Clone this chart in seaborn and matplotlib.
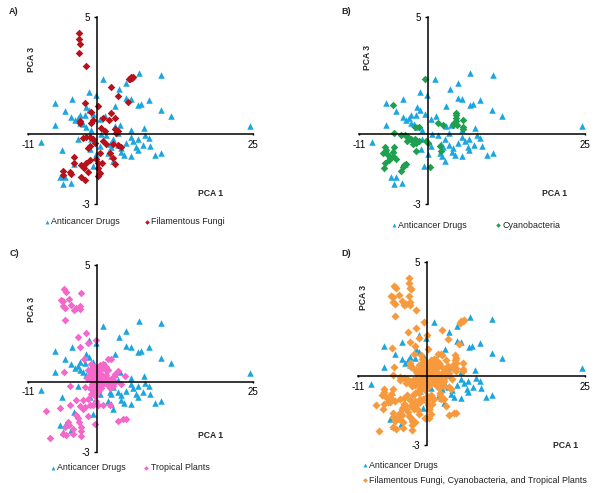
import matplotlib
matplotlib.use('Agg')
import matplotlib.pyplot as plt
import seaborn as sns
import pandas as pd

drugs_x = [24.5, 10.3, 6.7, 1.0, 4.7, 3.5, -1.3, -0.2, -4.0, -6.8, 4.7, 5.4, 8.3, 7.1, 6.6, 2.8, -1.8, -1.3, -5.1, 10.2,
           11.8, -4.1, -2.7, -3.1, -3.5, -1.9, -0.6, 1.3, 0.5, -6.8, -2.7, -2.2, -1.8, -1.0, 2.9, 3.7, 5.4, 7.5, 0.6, 1.5,
           7.7, 8.3, 6.5, 5.4, 5.8, -9.0, -3.1, 2.6, 3.3, 7.3, 6.3, 6.5, 8.5, -5.6, -1.2, 2.0, 2.3, 3.9, 3.8, 4.3,
           5.4, 9.3, 10.3, 1.8, 2.6, -0.7, -3.7, -5.9, -5.1, -4.2, -5.5, -0.1, 4.7, 2.2, 0.5, -1.0, 3.3]
drugs_y = [0.36, 2.51, 2.6, 2.37, 2.19, 1.93, 1.8, 1.66, 1.5, 1.31, 1.54, 1.5, 1.47, 1.3, 1.26, 1.2, 1.17, 1.04, 0.97, 1.01,
           0.79, 0.74, 0.83, 0.69, 0.6, 0.8, 0.84, 0.77, 0.63, 0.4, 0.49, 0.41, 0.3, 0.17, 0.34, 0.4, 0.17, 0.26, 0.0, -0.03,
           -0.06, -0.19, -0.2, -0.11, -0.29, -0.34, -0.2, -0.23, -0.46, -0.46, -0.54, -0.67, -0.53, -0.67, -0.66, -0.43, -0.54, -0.59, -0.77, -0.9,
           -0.94, -0.9, -0.83, -0.83, -1.16, -1.37, -1.29, -1.86, -1.86, -2.09, -2.16, -0.87, -0.4, -0.94, -0.51, -0.23, 0.06]

fungi_x = [-2.9, -2.9, -2.8, -2.9, -1.8, 5.8, 5.6, 5.3, 5.4, 5.1, 2.3, 3.3, 5.0, -2.0, 0.1, -1.0, 2.3, 2.9, 1.9, 0.9,
           -0.6, -1.0, -2.8, -2.7, 0.7, 1.3, 2.9, 3.4, 3.1, -2.3, -1.8, -1.1, -0.7, -0.3, -1.1, -1.4, 1.0, 1.5, 2.6, 3.4,
           3.8, 0.5, 2.0, 2.6, 2.9, -3.7, -3.7, -1.2, -1.8, -2.6, -2.1, -0.2, 0.1, 0.8, 0.2, 0.5, 0.2, -1.4, -5.5, -5.5,
           -4.3, -4.1, -2.6, -1.9]
fungi_y = [4.31, 4.09, 3.87, 3.49, 2.9, 2.46, 2.41, 2.37, 2.43, 2.34, 2.01, 1.63, 1.39, 1.34, 1.2, 0.94, 0.91, 0.7, 0.6, 0.7,
           0.6, 0.49, 0.56, 0.46, 0.27, 0.13, 0.2, 0.13, 0.06, -0.17, -0.11, -0.13, -0.23, -0.37, -0.51, -0.61, -0.3, -0.44, -0.44, -0.49,
           -0.54, -0.8, -0.83, -1.01, -1.3, -0.97, -1.23, -1.11, -1.26, -1.31, -1.44, -1.06, -1.26, -1.23, -1.44, -1.66, -1.8, -1.63, -1.59, -1.77,
           -1.61, -1.71, -1.84, -1.99]

cyano_x = [-0.5, -5.6, 4.4, 4.5, 4.4, 4.1, 4.5, 4.0, 4.6, 5.6, 5.6, 5.6, 1.6, 2.3, -2.1, -1.4, -5.4, -4.3, -3.7, -3.2,
           -2.8, -2.1, -1.4, -1.9, -2.4, -3.4, -3.0, -0.4, 0.0, -2.0, 1.9, 2.0, -6.9, -6.8, -7.2, -6.5, -6.1, -6.2, -5.7, -5.4,
           -5.7, -5.2, -6.9, -7.0, -3.6, -4.0, -4.3, -3.9, 0.3]
cyano_y = [2.36, 1.24, 0.91, 0.81, 0.7, 0.49, 0.56, 0.37, 0.37, 0.6, 0.31, 0.23, 0.46, 0.39, 0.31, 0.29, 0.06, -0.03, -0.06, -0.11,
           -0.2, -0.23, -0.3, -0.37, -0.44, -0.3, -0.23, -0.3, -0.4, -0.73, -0.51, -0.73, -0.56, -0.69, -0.83, -0.91, -1.01, -1.11, -0.94, -0.56,
           -0.77, -1.09, -1.23, -1.44, -1.27, -1.41, -1.59, -1.34, -1.41]

plants_x = [-5.3, -5.0, -2.6, -4.5, -5.7, -5.4, -5.5, -5.1, -4.1, -3.7, -3.4, -2.7, -2.7, -5.2, -1.8, -3.1, -0.1, -1.4, -2.8, -2.1,
            -5.3, -0.9, -0.3, 0.5, 1.0, 1.7, 2.2, 1.3, 1.8, -1.4, -0.9, -1.2, -0.3, 0.2, 0.7, 1.4, -0.6, 0.2, 1.0, 2.9,
            3.3, 4.5, 2.5, 2.1, 1.3, 2.9, 3.9, 0.5, 1.8, 2.6, -4.4, -1.9, -1.1, -0.3, 0.7, -0.6, 0.2, -1.0, -0.3, -1.4,
            -3.3, -2.2, -0.1, -2.7, -1.9, -1.2, -0.7, 0.2, 1.0, 2.1, -4.4, -6.0, -8.2, -2.2, -1.5, -3.4, -3.1, -2.9, 3.4, 4.2,
            4.6, -0.3, -4.7, -4.5, -5.1, -5.4, -5.0, -3.8, -3.8, -2.5, -2.5, -2.5, -7.6,
            -1.0, -0.6, -0.1, 0.4, 0.9, 1.5, -0.7, -0.2, 0.3, 0.8, 1.3, 1.8, 2.3, -0.5, 0.0, 0.5, 1.0, 1.6, 2.1, -0.8,
            -0.4, 0.1, 0.6, -1.6, -0.9, -0.2]
plants_y = [3.96, 3.84, 3.79, 3.56, 3.49, 3.44, 3.23, 3.16, 3.27, 3.09, 3.17, 3.24, 3.1, 2.63, 2.09, 1.91, 1.8, 1.67, 1.5, 0.99,
            0.41, 0.77, 0.63, 0.7, 0.77, 0.96, 0.99, 0.56, 0.49, 0.49, 0.41, 0.3, 0.34, 0.44, 0.34, 0.3, 0.2, 0.2, 0.13, 0.34,
            0.44, 0.24, 0.2, 0.06, -0.01, -0.01, -0.11, -0.13, -0.16, -0.19, -0.17, -0.23, -0.27, -0.27, -0.27, -0.44, -0.44, -0.51, -0.61, -0.73,
            -0.8, -0.8, -0.84, -1.04, -1.09, -0.99, -1.01, -0.99, -1.01, -0.99, -1.01, -1.11, -1.27, -1.19, -1.47, -1.41, -1.56, -1.73, -1.7, -1.61,
            -1.59, -1.8, -1.73, -1.87, -1.94, -2.23, -2.3, -2.01, -2.26, -1.94, -2.13, -2.33, -2.41,
            0.55, 0.5, 0.48, 0.55, 0.6, 0.65, 0.25, 0.27, 0.25, 0.2, 0.15, 0.1, 0.05, 0.08, 0.05, -0.05, -0.08, -0.1, -0.25, -0.12,
            -0.15, -0.2, -0.15, 0.15, 0.1, -0.35]

BLUE = '#1ca6df'
W, H = 600, 493

sns.set_theme(style='white')
plt.rcParams['font.family'] = ['Liberation Sans', 'DejaVu Sans']

fig = plt.figure(figsize=(6, 4.93), dpi=100)


def panel(x0, x1, y0, y1, tag, tag_xy, pc3_xy, pc1_xy, xs, ys, name, color, leg_xy, ncol=2, colsp=2.5, size=15):
    # pixel box of the axes -> figure fractions
    ax = fig.add_axes([x0 / W, 1 - y1 / H, (x1 - x0) / W, (y1 - y0) / H])
    ax.patch.set_alpha(0)
    a = pd.DataFrame({'x': drugs_x, 'y': drugs_y})
    b = pd.DataFrame({'x': xs, 'y': ys})
    sns.scatterplot(data=a, x='x', y='y', ax=ax, marker='^', color=BLUE, s=22, linewidth=0,
                    label='Anticancer Drugs', clip_on=False)
    sns.scatterplot(data=b, x='x', y='y', ax=ax, marker='D', color=color, s=size, linewidth=0,
                    label=name, clip_on=False)
    ax.set_xlim(-11, 25)
    ax.set_ylim(-3, 5)
    ax.set_xlabel('')
    ax.set_ylabel('')
    for s in ['top', 'right']:
        ax.spines[s].set_visible(False)
    for s in ['left', 'bottom']:
        ax.spines[s].set_position('zero')
        ax.spines[s].set_linewidth(1.1)
        ax.spines[s].set_color('black')
    ax.set_xticks([-11, 25], ['-11', '25'])
    ax.set_yticks([-3, 5], ['-3', '5'])
    ax.tick_params(axis='x', bottom=True, length=2, width=1, pad=3, labelsize=7, colors='black', direction='inout')
    ax.tick_params(axis='y', left=True, length=2.5, width=1, pad=2.5, labelsize=7, colors='black')
    ax.legend(loc='upper left', bbox_to_anchor=(leg_xy[0] / W, 1 - leg_xy[1] / H), bbox_transform=fig.transFigure,
              ncol=ncol, frameon=False, fontsize=6.4, handlelength=1, handletextpad=0.0, columnspacing=colsp, markerscale=0.6,
              borderpad=0, borderaxespad=0, labelspacing=0.7, labelcolor='#222222')
    fig.text(tag_xy[0] / W, 1 - tag_xy[1] / H, tag, fontsize=6.5, fontweight='bold', ha='left', va='center')
    fig.text(pc3_xy[0] / W, 1 - pc3_xy[1] / H, 'PCA 3', fontsize=6.2, fontweight='bold', rotation=90, ha='center', va='center')
    fig.text(pc1_xy[0] / W, 1 - pc1_xy[1] / H, 'PCA 1', fontsize=6.2, fontweight='bold', ha='center', va='center')


panel(28.3, 253.3, 17.3, 204, 'A)', (9, 12), (32, 60), (211, 193), fungi_x, fungi_y, 'Filamentous Fungi', '#b5121b', (42.6, 217.5))
panel(359.3, 585, 17.3, 204, 'B)', (341, 12), (368, 57), (555, 194), cyano_x, cyano_y, 'Cyanobacteria', '#1fa04f', (389.3, 220.5), colsp=3)
panel(28.3, 253.3, 265, 451.7, 'C)', (10, 254), (32, 309), (211, 435), plants_x, plants_y, 'Tropical Plants', '#f368c9', (48.6, 463.5), colsp=1.75)
panel(358, 585, 261.7, 445, 'D)', (341, 253), (364, 297), (566, 445), fungi_x + cyano_x + plants_x, fungi_y + cyano_y + plants_y,
      'Filamentous Fungi, Cyanobacteria, and Tropical Plants', '#f79a3e', (360.6, 460.5), ncol=1, size=17)

fig.savefig('out.png', dpi=100)
